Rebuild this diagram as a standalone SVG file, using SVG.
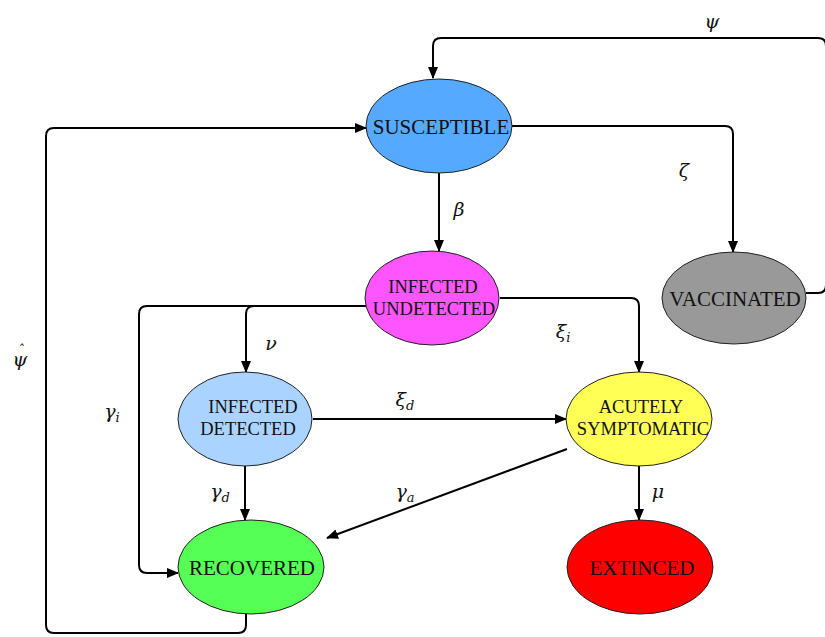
<svg xmlns="http://www.w3.org/2000/svg" width="825" height="637" viewBox="0 0 825 637">
<style>
.node ellipse{stroke:#222;stroke-width:1}
text{font-family:"DejaVu Serif","Liberation Serif",serif}
.lbl{fill:#111;text-anchor:middle;font-family:"Liberation Serif","DejaVu Serif",serif}
.big{font-size:21px}
.sm{font-size:18.5px}
.conn path{fill:none;stroke:#000;stroke-width:2}
.greek{font-style:italic;font-size:19px;fill:#111;text-anchor:middle}
.sub{font-size:13px}
.hat{font-size:13px}
</style>
<defs>
<marker id="ah" markerUnits="userSpaceOnUse" markerWidth="12" markerHeight="10" refX="11" refY="5" orient="auto">
<path d="M0,0 L12,5 L0,10 z" fill="#000"/>
</marker>
</defs>
<rect width="825" height="637" fill="#fff"/>
<g class="conn">
<path d="M806 293 H818 Q826 293 826 285 V46 Q826 38 818 38 H441 Q433 38 433 46 V78" marker-end="url(#ah)"/>
<path d="M512 126 H725 Q733 126 733 134 V252" marker-end="url(#ah)"/>
<path d="M439 172 V251" marker-end="url(#ah)"/>
<path d="M366 306 H254 Q246 306 246 314 V372" marker-end="url(#ah)"/>
<path d="M254 306 H147 Q139 306 139 314 V565 Q139 573 147 573 H178" marker-end="url(#ah)"/>
<path d="M500 298 H631 Q639 298 639 306 V372" marker-end="url(#ah)"/>
<path d="M313 419 H566" marker-end="url(#ah)"/>
<path d="M245 466 V520" marker-end="url(#ah)"/>
<path d="M567 449 L327 538" marker-end="url(#ah)"/>
<path d="M639 466 V520" marker-end="url(#ah)"/>
<path d="M246 613 V625 Q246 633 238 633 H54 Q46 633 46 625 V136 Q46 128 54 128 H366" marker-end="url(#ah)"/>
</g>
<g id="susceptible" class="node">
<ellipse cx="439" cy="126" rx="73" ry="47" fill="#55aaff"/>
<text class="lbl big" x="441" y="134">SUSCEPTIBLE</text>
</g>
<g id="infected-undetected" class="node">
<ellipse cx="432" cy="298" rx="67" ry="47" fill="#ff55ff"/>
<text class="lbl sm" x="433" y="293">INFECTED</text>
<text class="lbl sm" x="434" y="315">UNDETECTED</text>
</g>
<g id="vaccinated" class="node">
<ellipse cx="734" cy="298" rx="72" ry="46" fill="#999999"/>
<text class="lbl big" x="735" y="306">VACCINATED</text>
</g>
<g id="infected-detected" class="node">
<ellipse cx="245" cy="419" rx="67" ry="47" fill="#aad4ff"/>
<text class="lbl sm" x="253" y="413">INFECTED</text>
<text class="lbl sm" x="248" y="435">DETECTED</text>
</g>
<g id="acutely-symptomatic" class="node">
<ellipse cx="639" cy="419" rx="73" ry="47" fill="#ffff55"/>
<text class="lbl sm" x="641" y="413">ACUTELY</text>
<text class="lbl sm" x="643" y="435">SYMPTOMATIC</text>
</g>
<g id="recovered" class="node">
<ellipse cx="251" cy="567" rx="73" ry="47" fill="#55ff55"/>
<text class="lbl big" x="252" y="575">RECOVERED</text>
</g>
<g id="extinced" class="node">
<ellipse cx="640" cy="567" rx="73" ry="47" fill="#ff0000"/>
<text class="lbl big" x="642" y="575">EXTINCED</text>
</g>
<g id="labels">
<text class="greek" x="712" y="28">ψ</text>
<text class="greek" x="684" y="177">ζ</text>
<text class="greek" x="459" y="216">β</text>
<text class="greek" x="271" y="350">ν</text>
<text class="greek" x="563" y="338">ξ<tspan class="sub" dy="4">i</tspan></text>
<text class="greek" x="112" y="418">γ<tspan class="sub" dy="4">i</tspan></text>
<text class="greek" x="405" y="406">ξ<tspan class="sub" dy="4">d</tspan></text>
<text class="greek" x="220" y="498">γ<tspan class="sub" dy="4">d</tspan></text>
<text class="greek" x="405" y="498">γ<tspan class="sub" dy="4">a</tspan></text>
<text class="greek" x="658" y="498">μ</text>
<text class="greek" x="20" y="366">ψ<tspan class="hat" dx="-10" dy="-12">ˆ</tspan></text>
</g>
</svg>
